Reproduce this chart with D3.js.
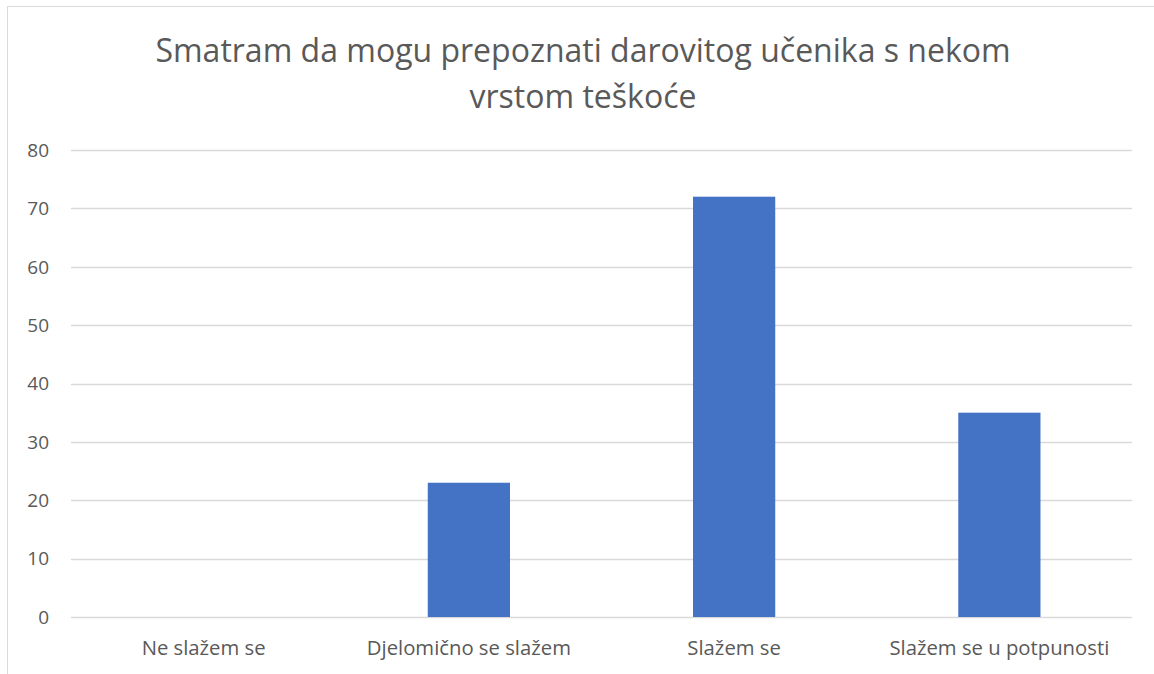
<!DOCTYPE html>
<html lang="hr">
<head>
<meta charset="UTF-8">
<title>Smatram da mogu prepoznati darovitog učenika s nekom vrstom teškoće</title>
<script src="https://d3js.org/d3.v7.min.js"></script>
<style>
    body { margin: 0; background: #fff; }
    svg { display: block; font-family: "Open Sans", "Liberation Sans", sans-serif; }
</style>
</head>
<body>
<div id="chart"></div>
<script>
    const categories = ["Ne slažem se", "Djelomično se slažem", "Slažem se", "Slažem se u potpunosti"];
    const values = [0, 23, 72, 35];
    const yTicks = [0, 10, 20, 30, 40, 50, 60, 70, 80];
    const titleLines = ["Smatram da mogu prepoznati darovitog učenika s nekom", "vrstom teškoće"];

    const width = 1154;
    const height = 674;
    const margin = { top: 150, right: 22, bottom: 57, left: 71 };

    const svg = d3.select("#chart")
        .append("svg")
        .attr("width", width)
        .attr("height", height);

    // chart frame (bottom/right run off the picture)
    svg.append("rect")
        .attr("x", 7.5).attr("y", 6.5)
        .attr("width", width).attr("height", height)
        .attr("fill", "#fff")
        .attr("stroke", "#d9d9d9");

    const x = d3.scaleBand()
        .domain(categories)
        .range([margin.left, width - margin.right])
        .paddingInner(0.69)
        .paddingOuter(0.345);

    const y = d3.scaleLinear()
        .domain([0, 80])
        .range([height - margin.bottom, margin.top]);

    // gridlines
    svg.append("g")
        .selectAll("line")
        .data(yTicks)
        .join("line")
        .attr("x1", margin.left)
        .attr("x2", width - margin.right)
        .attr("y1", d => Math.round(y(d)) + 0.5)
        .attr("y2", d => Math.round(y(d)) + 0.5)
        .attr("stroke", "#d9d9d9")
        .attr("stroke-width", 1.3);

    // y labels
    svg.append("g")
        .selectAll("text")
        .data(yTicks)
        .join("text")
        .attr("x", 49)
        .attr("y", d => y(d))
        .attr("dy", "0.36em")
        .attr("text-anchor", "end")
        .attr("fill", "#595959")
        .style("font-size", "19px")
        .text(d => d);

    // bars
    svg.append("g")
        .selectAll("rect")
        .data(values)
        .join("rect")
        .attr("x", (d, i) => x(categories[i]))
        .attr("width", x.bandwidth())
        .attr("y", d => y(d))
        .attr("height", d => y(0) - y(d))
        .attr("fill", "#4472c4");

    // category labels
    svg.append("g")
        .selectAll("text")
        .data(categories)
        .join("text")
        .attr("x", d => x(d) + x.bandwidth() / 2)
        .attr("y", 655)
        .attr("text-anchor", "middle")
        .attr("fill", "#595959")
        .style("font-size", "20.3px")
        .text(d => d);

    // title
    svg.append("g")
        .selectAll("text")
        .data(titleLines)
        .join("text")
        .attr("x", 583)
        .attr("y", (d, i) => 62 + i * 46)
        .attr("text-anchor", "middle")
        .attr("fill", "#595959")
        .style("font-size", "32px")
        .text(d => d);
</script>
</body>
</html>
